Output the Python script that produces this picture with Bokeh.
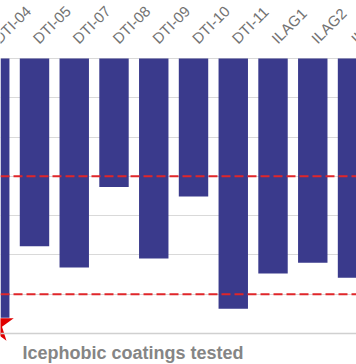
import math
from bokeh.plotting import figure
from bokeh.models import ColumnDataSource, LabelSet, Label, Range1d, Span, FixedTicker
from bokeh.core.properties import value
from bokeh.embed import file_html
from bokeh.resources import INLINE

# ---- data ----
coatings = ["DTI-04", "DTI-05", "DTI-07", "DTI-08", "DTI-09",
            "DTI-10", "DTI-11", "ILAG1", "ILAG2", "ILAG3"]
values = [-66.0, -47.8, -53.2, -32.7, -50.9, -35.1, -63.7, -54.7, -52.0, -55.8]
thresholds = [-30, -60]
star_coating = [0]
star_value = [-67.7]
grid_ticks = [0, -10, -20, -30, -40, -50, -60, -70]
axis_title = "Icephobic coatings tested"

# ---- layout (pixels) ----
W, H = 356, 364
TOP_PX, BOT_PX = 58, 333          # pixel rows of value 0 and value -70
Y_MIN, Y_MAX = -70, 0
scale = (Y_MAX - Y_MIN) / (BOT_PX - TOP_PX)   # data units per pixel
y_start = Y_MIN - (H - BOT_PX) * scale
y_end = Y_MAX + TOP_PX * scale

positions = list(range(len(coatings)))
src = ColumnDataSource(dict(x=positions, top=[0] * len(values), bottom=values,
                            label=coatings))

p = figure(width=W, height=H, output_backend="svg", toolbar_location=None,
           x_range=Range1d(0.145, 9.10), y_range=Range1d(y_start, y_end),
           x_axis_location=None, y_axis_location=None,
           min_border=0, min_border_left=0, min_border_right=0,
           min_border_top=0, min_border_bottom=0)
p.outline_line_color = None
p.xgrid.visible = False
p.ygrid.ticker = FixedTicker(ticks=grid_ticks)
p.ygrid.grid_line_color = "#d9d9d9"
p.ygrid.grid_line_width = 1

p.vbar(x="x", top="top", bottom="bottom", width=0.74, source=src,
       fill_color="#3a3a8c", line_color=None)

for t in thresholds:
    p.add_layout(Span(location=t, dimension="width", line_color="#e0262a",
                      line_width=2, line_dash="9 4"))

p.add_layout(Span(location=Y_MIN, dimension="width", line_color="#d0d0d0",
                  line_width=1.5))

p.scatter(x=star_coating, y=star_value, marker="star", size=40,
          fill_color="#e00000", line_color=None)

labels = LabelSet(x="x", y=Y_MAX + 17.7 * scale, text="label",
                  source=src, angle=math.pi / 4, x_offset=1,
                  text_align="left", text_baseline="middle",
                  text_font=value("Liberation Sans"),
                  text_font_size=value("15px"),
                  text_color=value("#737373"))
p.add_layout(labels)

p.add_layout(Label(x=22, y=H - 352, x_units="screen", y_units="screen",
                   text=axis_title, text_font="Liberation Sans",
                   text_font_size="18px", text_font_style="bold",
                   text_color="#858585", text_baseline="alphabetic"))

open("out.html", "w").write(file_html(p, INLINE))
